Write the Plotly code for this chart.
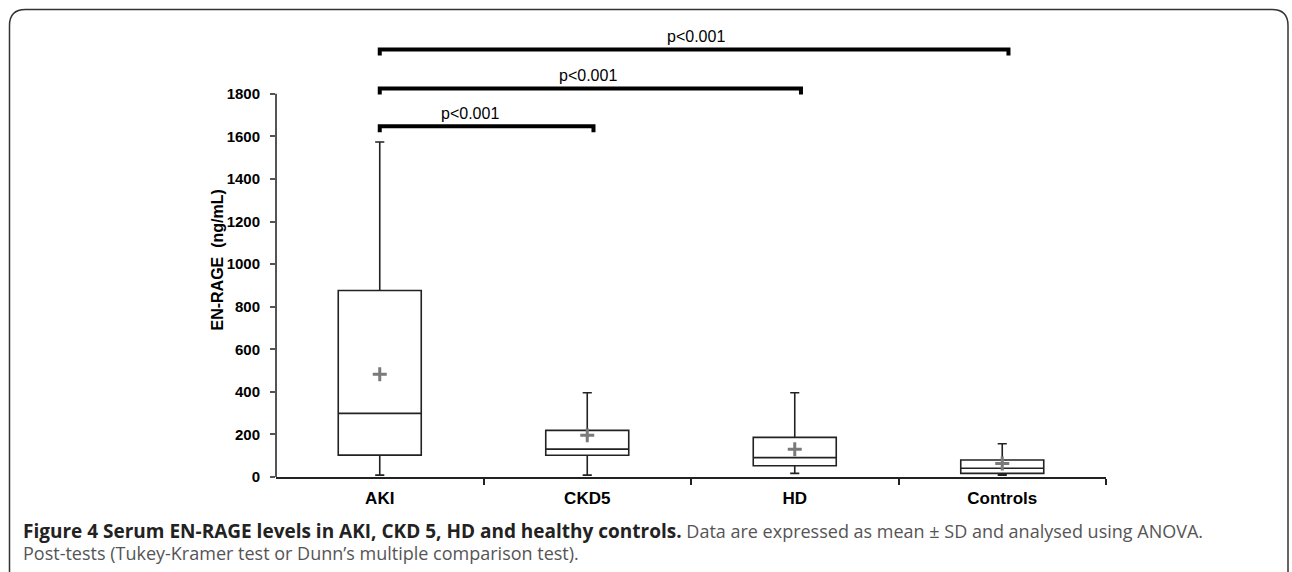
import plotly.graph_objects as go

# ---- data ----
categories = ["AKI", "CKD5", "HD", "Controls"]
q1 = [103, 102, 53, 17]
median = [299, 131, 91, 41]
q3 = [876, 219, 186, 80]
lower_whisker = [9, 9, 17, 9]
upper_whisker = [1574, 396, 396, 156]
mean = [483, 196, 130, 64]
y_ticks = [0, 200, 400, 600, 800, 1000, 1200, 1400, 1600, 1800]
comparisons = [("AKI", "CKD5"), ("AKI", "HD"), ("AKI", "Controls")]
comparison_levels = [1648, 1825, 2008]
comparison_labels = ["p<0.001", "p<0.001", "p<0.001"]
caption_bold = "Figure 4 Serum EN-RAGE levels in AKI, CKD 5, HD and healthy controls."
caption_rest = " Data are expressed as mean ± SD and analysed using ANOVA."
caption_line2 = "Post-tests (Tukey-Kramer test or Dunn’s multiple comparison test)."

# ---- layout geometry (pixels) ----
W, H = 1292, 572
L, R, T, B = 276, 1106, 30, 477
PW, PH = R - L, B - T


def px(x):
    return (x - L) / PW


def py(y):
    return (B - y) / PH


xpos = list(range(len(categories)))
idx = {c: i for i, c in enumerate(categories)}

fig = go.Figure()

fig.add_trace(go.Box(
    x=xpos, q1=q1, median=median, q3=q3,
    lowerfence=lower_whisker, upperfence=upper_whisker,
    width=0.4, whiskerwidth=0.11,
    fillcolor="white", line=dict(color="#222222", width=1.6),
    boxpoints=False, showlegend=False, hoverinfo="skip",
))

fig.add_trace(go.Scatter(
    x=xpos, y=mean, mode="markers",
    marker=dict(symbol="cross-thin", size=10,
                line=dict(color="#7a7a7a", width=3)),
    showlegend=False, hoverinfo="skip",
))

# significance brackets
tick_drop = 28
label_dx = [-0.08, -0.01, 0.01]
for (a, b), lvl, lab, dx in zip(comparisons, comparison_levels, comparison_labels, label_dx):
    x0, x1 = idx[a], idx[b] + 0.03
    fig.add_trace(go.Scatter(
        x=[x0, x0, x1, x1], y=[lvl - tick_drop, lvl, lvl, lvl - tick_drop],
        mode="lines", line=dict(color="black", width=4),
        showlegend=False, hoverinfo="skip", cliponaxis=False,
    ))
    fig.add_annotation(x=(x0 + x1) / 2 + dx, y=lvl + 62, text=lab,
                       showarrow=False, yanchor="middle",
                       font=dict(family="Liberation Sans, Arial", size=16, color="black"))

shapes = []
# y axis line up to 1800
shapes.append(dict(type="line", xref="paper", yref="y", x0=0, x1=0, y0=0, y1=1800,
                   line=dict(color="#555555", width=2)))
# rounded border
x0b, x1b, y0b, rr = px(9.5), px(1288), py(9.5), 16
rx, ry = rr / PW, rr / PH
path = (f"M {x0b} {py(600)} L {x0b} {y0b - ry} Q {x0b} {y0b} {x0b + rx} {y0b} "
        f"L {x1b - rx} {y0b} Q {x1b} {y0b} {x1b} {y0b - ry} L {x1b} {py(600)}")
shapes.append(dict(type="path", xref="paper", yref="paper", path=path,
                   line=dict(color="#333333", width=1.5)))

# y-axis title
fig.add_annotation(xref="paper", yref="paper", x=px(206), y=py(260),
                   text="<b>EN-RAGE  (ng/mL)</b>", textangle=-90, showarrow=False,
                   font=dict(family="Liberation Sans, Arial", size=16, color="black"))

# caption (two lines in one text block; base size sets the line spacing)
fig.add_annotation(xref="paper", yref="paper", x=px(21), y=py(541), xanchor="left",
                   yanchor="middle", showarrow=False, align="left",
                   text=f"<b><span style='color:#222222;font-size:19px'>{caption_bold}</span></b>"
                        f"<span style='color:#555555;font-size:18px'>{caption_rest}</span><br>"
                        f"<span style='color:#555555;font-size:18px'>{caption_line2}</span>",
                   font=dict(family="Open Sans", size=17, color="#555555"))

fig.update_layout(
    width=W, height=H,
    margin=dict(l=L, r=W - R, t=T, b=H - B, pad=0),
    paper_bgcolor="white", plot_bgcolor="white",
    shapes=shapes,
    xaxis=dict(range=[-0.5, 3.5], tickvals=xpos, ticktext=[f"<b>{c}</b>" for c in categories],
               ticks="", showline=True, linecolor="#222222", linewidth=1.6,
               showgrid=False, zeroline=False,
               tickfont=dict(family="Liberation Sans, Arial", size=17, color="black"),
               ticklabelstandoff=5,
               minor=dict(tickvals=[0.5, 1.5, 2.5, 3.5], ticks="outside", ticklen=6,
                          tickcolor="#222222", tickwidth=1.5, showgrid=False)),
    yaxis=dict(range=[0, 2100], tickvals=y_ticks, ticktext=[f"<b>{v}</b>" for v in y_ticks],
               ticks="outside", ticklen=5, tickwidth=1.5, tickcolor="#555555",
               showline=False, showgrid=False, zeroline=False,
               tickfont=dict(family="Liberation Sans, Arial", size=15, color="black"),
               ticklabelstandoff=7),
)

fig.write_html("out.html", config={"displayModeBar": False},
               post_script="document.body.style.margin='0px';document.body.style.overflow='hidden';")
